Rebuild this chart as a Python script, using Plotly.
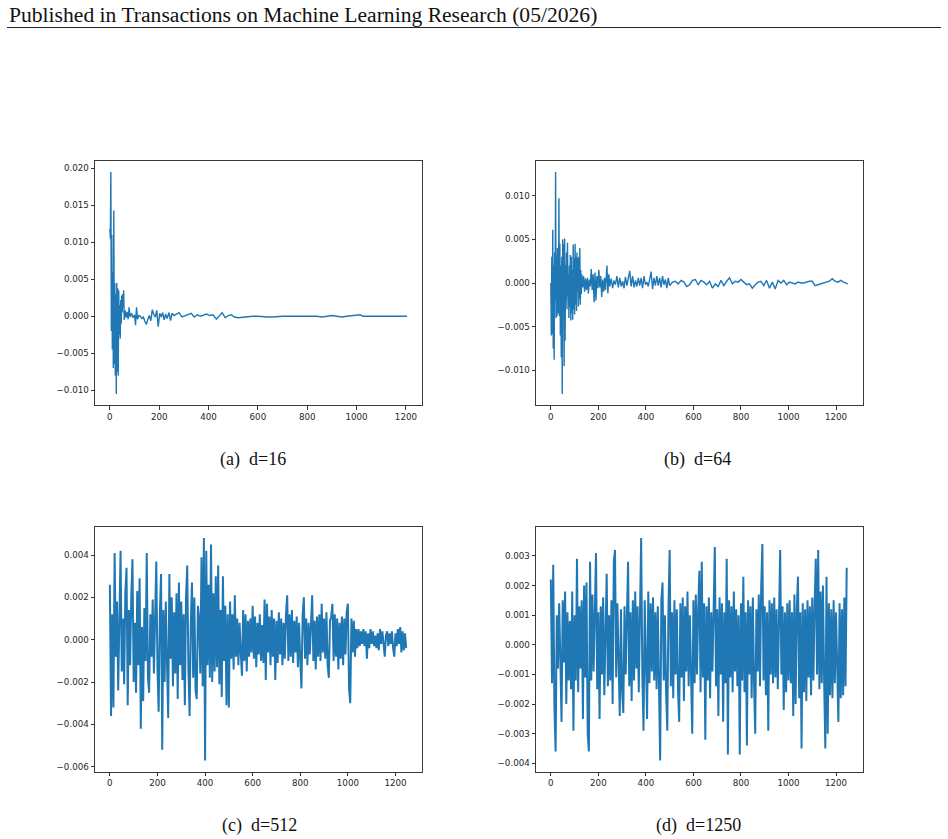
import numpy as np
import plotly.graph_objects as go

# ---------------- data ----------------
# (a) d=16
a_x = [0, 2, 4, 6, 8, 10, 12, 14, 16, 18, 20, 22, 24, 26, 28, 30, 32, 34, 36, 38, 40, 42, 44, 46, 48, 50,
       52, 54, 56, 58, 62, 66, 70, 74, 78, 82, 88, 94, 100, 104, 108, 112, 118, 124, 130, 136, 142, 148,
       154, 160, 166, 172, 178, 184, 190, 196, 202, 208, 214, 220, 226, 232, 240, 246, 252, 260, 270, 280,
       292, 305, 318, 330, 342, 355, 368, 380, 392, 405, 418, 432, 445, 455, 468, 480, 492, 505, 520, 540,
       560, 580, 600, 620, 640, 660, 680, 700, 720, 740, 760, 780, 800, 820, 840, 860, 880, 900, 920, 940,
       960, 980, 1000, 1015, 1025, 1050, 1080, 1110, 1140, 1170, 1205]
a_y = [0.0118, 0.0105, 0.0195, -0.0020, 0.0110, -0.0045, 0.0060, -0.0070, 0.0143, -0.0065, 0.0045, -0.0080,
       0.0030, -0.0105, 0.0045, -0.0075, 0.0038, -0.0080, 0.0035, -0.0025, 0.0015, -0.0030, 0.0022, -0.0010,
       0.0028, 0.0005, 0.0030, 0.0012, 0.0035, -0.0005, 0.0008, -0.0002, 0.0006, -0.0004, 0.0012, -0.0001,
       0.0004, -0.0002, 0.0002, -0.0012, 0.0012, -0.0004, 0.0001, 0.0000, -0.0003, -0.0001, -0.0007, -0.0011,
       -0.0004, 0.0001, -0.0006, 0.0009, 0.0002, -0.0001, 0.0008, -0.0014, 0.0004, -0.0001, 0.0005, -0.0005,
       0.0003, -0.0003, 0.0005, -0.0006, 0.0004, 0.0001, 0.0003, 0.0005, -0.0001, 0.0001, 0.0002, 0.0004,
       -0.0001, 0.0002, 0.0000, 0.0001, 0.0003, 0.0001, 0.0002, -0.0004, 0.0002, 0.0005, -0.0002, 0.0001,
       0.0002, -0.0001, -0.0002, -0.0001, 0.0000, 0.0000, 0.0000, -0.0001, -0.0001, -0.0001, 0.0000, 0.0000,
       0.0000, 0.0000, 0.0001, 0.0000, 0.0001, 0.0000, 0.0000, -0.0001, 0.0000, 0.0001, 0.0000, -0.0001,
       0.0000, 0.0001, 0.0001, 0.0002, 0.0000, 0.0000, 0.0000, 0.0000, 0.0000, -0.0001, 0.0000]

# (b) d=64
b_x = [0, 2, 4, 6, 8, 10, 12, 14, 16, 18, 20, 22, 24, 26, 28, 30, 32, 34, 36, 38, 40, 42, 44, 46, 48, 50,
       52, 54, 56, 58, 60, 62, 64, 66, 68, 70, 72, 74, 76, 78, 80, 82, 84, 86, 88, 90, 92, 94, 96, 98, 100,
       102, 104, 106, 108, 110, 112, 114, 116, 118, 120, 122, 124, 126, 128, 130, 134, 138, 142, 146, 150,
       154, 158, 162, 166, 170, 174, 178, 182, 186, 190, 194, 198, 202, 206, 210, 214, 218, 222, 226, 230,
       236, 240, 244, 248, 254, 260, 266, 272, 278, 284, 290, 296, 302, 308, 314, 320, 326, 332, 338, 344,
       350, 356, 362, 368, 374, 380, 386, 392, 398, 404, 410, 416, 422, 428, 434, 440, 446, 452, 458, 464,
       470, 476, 482, 488, 494, 500, 512, 524, 536, 548, 560, 572, 584, 596, 608, 620, 632, 644, 656, 668,
       680, 692, 704, 716, 728, 740, 752, 764, 776, 788, 800, 812, 824, 836, 848, 860, 872, 884, 896, 908,
       920, 932, 944, 956, 968, 980, 992, 1004, 1016, 1028, 1040, 1052, 1064, 1076, 1088, 1100, 1112, 1124,
       1136, 1148, 1160, 1172, 1184, 1196, 1208, 1220, 1232, 1249]
b_y = [0.0000, -0.0060, 0.0030, -0.0058, 0.0061, -0.0075, 0.0020, -0.0088, 0.0035, -0.0020, 0.0127, -0.0040,
       0.0030, -0.0038, 0.0040, 0.0010, -0.0035, 0.0097, -0.0038, 0.0045, -0.0060, 0.0020, -0.0085, 0.0030,
       -0.0127, 0.0050, -0.0030, 0.0045, -0.0095, 0.0051, -0.0066, 0.0020, -0.0020, 0.0035, -0.0030, 0.0046,
       -0.0015, 0.0010, -0.0040, 0.0020, -0.0028, 0.0032, -0.0043, 0.0030, -0.0035, 0.0015, -0.0042, 0.0044,
       -0.0030, 0.0028, -0.0036, 0.0045, -0.0025, 0.0030, -0.0032, 0.0035, -0.0010, 0.0028, -0.0027, 0.0030,
       -0.0018, 0.0040, -0.0025, 0.0015, -0.0013, 0.0010, -0.0005, 0.0008, -0.0010, 0.0005, -0.0008, 0.0006,
       -0.0012, 0.0004, -0.0004, 0.0016, -0.0008, 0.0010, -0.0022, 0.0012, -0.0020, 0.0008, -0.0006, 0.0015,
       -0.0005, 0.0008, -0.0016, 0.0004, -0.0010, 0.0006, -0.0008, 0.0020, -0.0012, 0.0010, -0.0004, 0.0005,
       -0.0006, 0.0003, -0.0002, 0.0008, -0.0005, 0.0006, -0.0004, 0.0002, -0.0006, 0.0007, -0.0003, 0.0005,
       0.0014, -0.0004, 0.0008, -0.0005, 0.0003, -0.0004, 0.0006, -0.0003, 0.0006, -0.0006, 0.0008, -0.0002,
       0.0001, -0.0004, 0.0005, 0.0013, -0.0007, 0.0006, -0.0003, 0.0008, -0.0003, 0.0006, -0.0005, 0.0008,
       -0.0002, 0.0004, -0.0006, 0.0006, -0.0003, 0.0001, 0.0002, -0.0001, 0.0003, 0.0001, -0.0004, -0.0002,
       0.0003, 0.0004, -0.0002, 0.0003, 0.0001, -0.0002, 0.0002, -0.0006, -0.0001, -0.0004, 0.0003, -0.0003,
       0.0002, 0.0006, -0.0001, 0.0002, 0.0001, 0.0004, 0.0001, -0.0002, -0.0001, -0.0006, -0.0002, 0.0001,
       0.0002, -0.0003, 0.0003, -0.0006, 0.0001, -0.0007, 0.0003, 0.0000, 0.0003, -0.0002, 0.0001, 0.0000,
       -0.0001, 0.0001, 0.0000, 0.0000, 0.0001, 0.0002, 0.0002, -0.0003, -0.0002, -0.0001, 0.0000, 0.0001,
       0.0002, 0.0005, 0.0002, 0.0001, 0.0003, 0.0001, -0.0001]

# (c) d=512 -- one value read every 5 steps
c_step = 5
c_y = [0.0026, -0.0036, 0.0012, -0.0032, 0.0041, -0.0008, 0.0018, -0.0024, 0.0009, 0.0042,
       -0.0015, 0.0010, -0.0021, 0.0022, 0.0034, -0.0031, 0.0014, -0.0012, 0.0020, 0.0038,
       -0.0020, 0.0008, -0.0025, 0.0023, -0.0012, 0.0029, -0.0042, 0.0006, -0.0029, 0.0015,
       -0.0010, 0.0041, -0.0018, -0.0025, 0.0012, -0.0008, 0.0019, -0.0016, 0.0010, 0.0037,
       -0.0014, -0.0034, 0.0012, 0.0031, -0.0052, 0.0014, -0.0020, 0.0018, -0.0011, -0.0037,
       0.0031, -0.0009, 0.0020, -0.0022, 0.0013, -0.0016, 0.0022, -0.0028, 0.0027, -0.0012,
       0.0018, -0.0019, 0.0012, -0.0031, 0.0020, 0.0035, -0.0014, -0.0036, 0.0008, 0.0027,
       -0.0018, 0.0020, -0.0024, -0.0028, 0.0016, 0.0010, -0.0016, 0.0039, -0.0022, 0.0048,
       -0.0057, 0.0042, -0.0012, 0.0026, -0.0018, 0.0045, -0.0020, 0.0022, -0.0015, 0.0030,
       -0.0013, 0.0035, -0.0021, 0.0014, -0.0027, 0.0030, -0.0010, 0.0016, -0.0031, 0.0012,
       -0.0032, 0.0018, -0.0009, 0.0012, -0.0014, 0.0021, -0.0008, 0.0010, -0.0012, 0.0008,
       -0.0006, -0.0017, 0.0014, -0.0010, 0.0012, -0.0015, 0.0009, -0.0008, 0.0010, -0.0006,
       0.0016, -0.0009, 0.0011, -0.0013, 0.0008, -0.0007, 0.0012, -0.0010, 0.0007, -0.0011,
       0.0019, -0.0019, 0.0017, -0.0006, 0.0011, -0.0012, 0.0014, -0.0008, 0.0010, -0.0019,
       0.0009, -0.0011, 0.0013, -0.0007, 0.0010, -0.0012, 0.0008, -0.0009, 0.0012, 0.0021,
       -0.0010, 0.0012, -0.0008, 0.0014, -0.0011, 0.0009, -0.0006, 0.0011, -0.0013, 0.0008,
       -0.0010, -0.0023, 0.0012, 0.0020, -0.0009, 0.0010, -0.0012, 0.0008, -0.0007, 0.0011,
       0.0021, -0.0010, 0.0009, -0.0014, 0.0011, -0.0008, 0.0012, -0.0010, 0.0017, -0.0006,
       0.0010, -0.0009, 0.0013, -0.0012, -0.0018, 0.0009, 0.0011, 0.0017, -0.0010, 0.0012,
       -0.0008, 0.0010, -0.0014, 0.0008, -0.0009, 0.0011, -0.0012, 0.0010, -0.0007, 0.0013,
       0.0017, -0.0023, -0.0030, 0.0010, -0.0006, 0.0009, -0.0008, 0.0005, -0.0004, 0.0005,
       -0.0003, 0.0004, -0.0002, 0.0005, -0.0003, 0.0004, -0.0009, 0.0003, -0.0004, 0.0005,
       -0.0002, 0.0004, -0.0003, 0.0002, -0.0004, 0.0003, -0.0005, 0.0005, -0.0002, 0.0004,
       -0.0003, -0.0008, 0.0002, 0.0004, -0.0003, 0.0003, -0.0002, 0.0004, -0.0004, -0.0008,
       0.0003, -0.0003, 0.0005, -0.0002, 0.0006, -0.0006, 0.0004, -0.0005, 0.0003, -0.0004]

# (d) d=1250 -- one value read every 5 steps
d_step = 5
d_y = [0.0022, -0.0013, 0.0027, -0.0021, -0.0036, 0.0010, -0.0008, 0.0014, -0.0005, -0.0026,
       0.0015, -0.0006, 0.0018, -0.0020, 0.0011, -0.0012, 0.0008, -0.0015, 0.0018, -0.0029,
       0.0010, -0.0012, 0.0029, -0.0016, 0.0013, -0.0008, 0.0015, -0.0025, 0.0020, -0.0011,
       0.0021, -0.0030, -0.0036, 0.0028, -0.0012, 0.0017, -0.0009, 0.0014, 0.0031, -0.0015,
       0.0011, -0.0025, 0.0013, -0.0010, 0.0016, -0.0017, 0.0012, 0.0024, -0.0014, 0.0010,
       -0.0012, 0.0015, -0.0020, 0.0028, 0.0032, -0.0011, 0.0014, -0.0009, -0.0024, 0.0012,
       -0.0016, -0.0023, 0.0013, -0.0010, 0.0016, 0.0028, -0.0014, 0.0011, -0.0019, 0.0015,
       -0.0012, 0.0018, -0.0008, 0.0013, -0.0016, 0.0020, 0.0036, -0.0010, -0.0029, 0.0015,
       -0.0011, -0.0025, 0.0018, -0.0013, 0.0014, -0.0009, 0.0016, -0.0012, 0.0011, -0.0015,
       0.0013, -0.0010, -0.0039, 0.0015, 0.0021, -0.0012, 0.0010, -0.0016, -0.0029, 0.0013,
       0.0032, -0.0014, 0.0011, -0.0018, 0.0015, -0.0010, 0.0012, -0.0015, -0.0026, 0.0014,
       -0.0011, 0.0016, -0.0019, 0.0013, -0.0009, 0.0018, -0.0014, 0.0010, -0.0012, -0.0030,
       0.0015, -0.0013, 0.0017, -0.0010, 0.0012, 0.0025, -0.0016, 0.0028, -0.0011, 0.0014,
       -0.0032, 0.0013, -0.0012, 0.0016, -0.0018, 0.0011, -0.0009, 0.0015, 0.0033, -0.0014,
       0.0012, -0.0024, 0.0016, -0.0010, 0.0014, -0.0026, 0.0011, -0.0013, 0.0029, -0.0037,
       0.0015, -0.0011, 0.0013, -0.0016, 0.0018, -0.0009, 0.0012, -0.0014, 0.0010, -0.0037,
       0.0014, -0.0012, 0.0023, -0.0016, 0.0011, -0.0034, 0.0015, -0.0010, 0.0013, -0.0018,
       0.0016, -0.0013, -0.0030, 0.0012, -0.0009, 0.0017, -0.0014, 0.0019, 0.0034, -0.0012,
       0.0013, -0.0017, 0.0011, -0.0029, 0.0015, -0.0010, 0.0014, -0.0013, 0.0016, -0.0011,
       0.0012, -0.0015, 0.0018, 0.0032, -0.0010, 0.0013, -0.0022, 0.0011, -0.0016, 0.0014,
       -0.0012, 0.0015, -0.0013, 0.0011, -0.0024, 0.0017, -0.0020, 0.0012, 0.0023, -0.0018,
       0.0011, -0.0035, 0.0014, -0.0016, 0.0012, -0.0019, 0.0015, -0.0011, 0.0013, -0.0017,
       0.0016, -0.0012, 0.0014, 0.0029, -0.0010, 0.0032, -0.0015, 0.0018, -0.0013, 0.0020,
       -0.0012, -0.0035, 0.0023, -0.0030, 0.0014, -0.0017, 0.0012, -0.0018, 0.0015, -0.0013,
       0.0011, -0.0016, -0.0026, 0.0014, -0.0018, 0.0012, -0.0017, 0.0016, -0.0014, 0.0026]

captions = ["(a) d=16", "(b) d=64", "(c) d=512", "(d) d=1250"]
header_text = "Published in Transactions on Machine Learning Research (05/2026)"
x_ticks = [0, 200, 400, 600, 800, 1000, 1200]
y_ticks = [
    [-0.010, -0.005, 0.000, 0.005, 0.010, 0.015, 0.020],
    [-0.010, -0.005, 0.000, 0.005, 0.010],
    [-0.006, -0.004, -0.002, 0.000, 0.002, 0.004],
    [-0.004, -0.003, -0.002, -0.001, 0.000, 0.001, 0.002, 0.003],
]

c_x = list(np.arange(len(c_y)) * c_step)
d_x = list(np.arange(len(d_y)) * d_step)
series = [(a_x, a_y), (b_x, b_y), (c_x, c_y), (d_x, d_y)]

# ---------------- layout ----------------
W, H = 948, 839
boxes = [  # left, right, top, bottom in pixels
    (95, 422, 161, 405),
    (536, 862.5, 161, 405),
    (95, 422, 527, 771.5),
    (536, 862.5, 527, 771.5),
]
line_widths = [1.4, 1.4, 2.0, 2.0]
cap_pos = [(253, 459), (697, 459), (259, 825), (698, 825)]

fig = go.Figure()
layout = dict(
    width=W, height=H, margin=dict(l=0, r=0, t=0, b=0),
    paper_bgcolor="white", plot_bgcolor="white", showlegend=False,
)

def pad_range(vals):
    lo, hi = min(vals), max(vals)
    p = 0.05 * (hi - lo)
    return [lo - p, hi + p]

tickfont = dict(family="DejaVu Sans", size=8.7, color="#262626")
for i, ((xs, ys), (l, r, t, b)) in enumerate(zip(series, boxes)):
    n = "" if i == 0 else str(i + 1)
    xr = pad_range(xs)
    if i > 0:
        xr = pad_range([0, 1249])
    fig.add_trace(go.Scatter(x=xs, y=ys, mode="lines", xaxis="x" + n, yaxis="y" + n,
                             line=dict(color="#1f77b4", width=line_widths[i])))
    layout["xaxis" + n] = dict(
        domain=[l / W, r / W], anchor="y" + n, range=xr,
        tickmode="array", tickvals=x_ticks, ticktext=[str(v) for v in x_ticks],
        ticks="outside", ticklen=3.5, tickwidth=0.8, tickcolor="#333",
        showline=True, linecolor="#3a3a3a", linewidth=1, mirror=True,
        showgrid=False, zeroline=False, tickfont=tickfont,
    )
    layout["yaxis" + n] = dict(
        domain=[1 - b / H, 1 - t / H], anchor="x" + n, range=pad_range(ys),
        tickmode="array", tickvals=y_ticks[i], tickformat=".3f",
        ticks="outside", ticklen=3.5, tickwidth=0.8, tickcolor="#333",
        showline=True, linecolor="#3a3a3a", linewidth=1, mirror=True,
        showgrid=False, zeroline=False, tickfont=tickfont,
    )

annotations = [dict(text=header_text, x=7 / W, y=1 - 15 / H, xref="paper", yref="paper",
                    xanchor="left", yanchor="middle", showarrow=False,
                    font=dict(family="Liberation Serif", size=21.6, color="#111"))]
for cap, (cx, cy) in zip(captions, cap_pos):
    annotations.append(dict(text=cap.replace(") ", ")\u2002"), x=cx / W, y=1 - cy / H,
                            xref="paper", yref="paper",
                            xanchor="center", yanchor="middle", showarrow=False,
                            font=dict(family="Liberation Serif", size=18, color="#111")))
layout["annotations"] = annotations
layout["shapes"] = [dict(type="line", xref="paper", yref="paper", x0=7 / W, x1=941 / W,
                         y0=1 - 27.5 / H, y1=1 - 27.5 / H, line=dict(color="#222", width=1.2))]
fig.update_layout(**layout)
fig.write_html("out.html")
